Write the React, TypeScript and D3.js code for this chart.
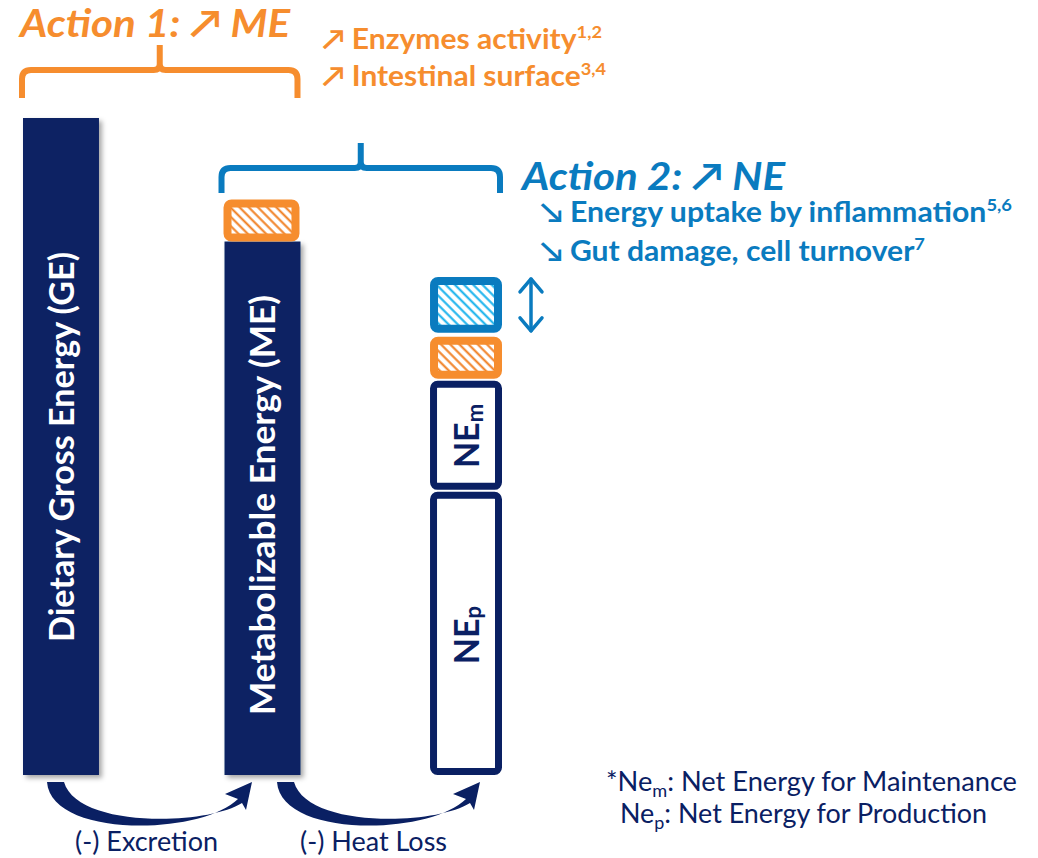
import React from "react";
import * as d3 from "d3";

const categories = ["GE", "ME", "NE"];
// stacks: [key, from, to] in % of dietary gross energy
const geStack: [string, number, number][] = [["GE", 0, 100]];
const meStack: [string, number, number][] = [["ME", 0, 81.2], ["gainME", 81.2, 87.6]];
const neStack: [string, number, number][] = [
  ["NEp", 0, 43.1],
  ["NEm", 43.4, 60.0],
  ["gainME", 60.3, 66.7],
  ["gainNE", 67.3, 75.8],
];
const barLabels = ["Dietary Gross Energy (GE)", "Metabolizable Energy (ME)"];
const action1 = { title: "Action 1: \u2197 ME", items: [["\u2197 Enzymes activity", "1,2"], ["\u2197 Intestinal surface", "3,4"]] };
const action2 = { title: "Action 2: \u2197 NE", items: [["\u2198 Energy uptake by inflammation", "5,6"], ["\u2198 Gut damage, cell turnover", "7"]] };
const lossLabels = ["(-) Excretion", "(-) Heat Loss"];

const NAVY = "#0a2063";
const ORANGE = "#f68d2e";
const HATCH_O = "#f07d1e";
const BLUE = "#0a7bbf";
const LIGHTBLUE = "#12b0ec";
const FONT = "Lato, 'Open Sans', sans-serif";

export default function App() {
  const W = 1038, H = 858;
  const y = d3.scaleLinear().domain([0, 100]).range([775, 118]);
  const x = d3.scaleBand<string>().domain(categories).range([23, 502]).paddingInner(0.623);
  const bw = x.bandwidth();
  const xGE = x("GE")!, xME = x("ME")!, xNE = x("NE")!;

  const box = (x0: number, w: number, from: number, to: number, stroke: string, fill: string, sw: number, key: string) => (
    <rect key={key} x={x0 + sw / 2} y={y(to) + sw / 2} width={w - sw} height={y(from) - y(to) - sw}
      rx={4} fill={fill} stroke={stroke} strokeWidth={sw} />
  );

  const brace = (x0: number, x1: number, yTop: number, yMid: number, yEnd: number, color: string) => {
    const cx = (x0 + x1) / 2;
    const r = 9;
    return (
      <path d={`M${x0},${yEnd} L${x0},${yMid + r} Q${x0},${yMid} ${x0 + r},${yMid} L${cx - 6},${yMid} Q${cx},${yMid} ${cx},${yMid - 6} L${cx},${yTop}
        M${cx},${yMid - 6} Q${cx},${yMid} ${cx + 6},${yMid} L${x1 - r},${yMid} Q${x1},${yMid} ${x1},${yMid + r} L${x1},${yEnd}`}
        fill="none" stroke={color} strokeWidth={6} strokeLinejoin="round" />
    );
  };

  const curvedArrow = (sx: number, tx: number, key: string) => {
    const y0 = 782, yb = 830;
    const d = `M${sx},${y0} C${sx + 4},${yb + 8} ${tx - 50},${yb + 6} ${tx - 12},${y0 + 17}
      L${tx - 25},${y0 + 12} L${tx + 2},${y0} L${tx - 4},${y0 + 28} L${tx - 8},${y0 + 21}
      C${tx - 45},${yb - 4} ${sx + 30},${yb - 2} ${sx + 17},${y0} Z`;
    return <path key={key} d={d} fill={NAVY} />;
  };

  const neCx = xNE + 2 + bw / 2;
  const supText = (t: string, s: string, i: number, x0: number, y0: number, color: string, len: number) => (
    <text key={i} x={x0} y={y0} fill={color} fontWeight="bold" fontSize={28} textLength={len} lengthAdjust="spacingAndGlyphs">
      {t}<tspan fontSize={17} dy={-11}>{s}</tspan>
    </text>
  );

  return (
    <svg width={W} height={H} style={{ position: "absolute", left: 0, top: 0, background: "#fff" }} fontFamily={FONT}>
      <defs>
        <pattern id="hatchO" patternUnits="userSpaceOnUse" width="6.5" height="6.5" patternTransform="rotate(-45)">
          <rect width="6.5" height="6.5" fill="#fff" />
          <rect x="2.3" y="0" width="2" height="6.5" fill={HATCH_O} />
        </pattern>
        <pattern id="hatchB" patternUnits="userSpaceOnUse" width="6.5" height="6.5" patternTransform="rotate(-45)">
          <rect width="6.5" height="6.5" fill="#fff" />
          <rect x="2.3" y="0" width="2" height="6.5" fill={LIGHTBLUE} />
        </pattern>
        <filter id="shadow" x="-20%" y="-5%" width="150%" height="115%">
          <feDropShadow dx="3" dy="3" stdDeviation="2.5" floodColor="#000" floodOpacity="0.35" />
        </filter>
      </defs>

      {/* GE bar */}
      {geStack.map(([k, f, t]) => (
        <rect key={k} x={xGE} y={y(t)} width={bw} height={y(f) - y(t)} fill={NAVY} filter="url(#shadow)" />
      ))}
      {/* ME bar */}
      {meStack.map(([k, f, t]) =>
        k === "ME" ? (
          <rect key={k} x={xME} y={y(t)} width={bw} height={y(f) - y(t)} fill={NAVY} filter="url(#shadow)" />
        ) : (
          box(xME - 1, bw, f, t, ORANGE, "url(#hatchO)", 8, k)
        )
      )}
      {/* NE stack */}
      {neStack.map(([k, f, t]) => {
        if (k === "gainME") return box(xNE + 4, bw - 4, f, t, ORANGE, "url(#hatchO)", 8, k);
        if (k === "gainNE") return box(xNE + 4, bw - 4, f, t, BLUE, "url(#hatchB)", 8, k);
        return box(xNE + 4, bw - 4, f, t, NAVY, "#fff", 7, k);
      })}

      {/* vertical labels */}
      <text transform={`translate(${xGE + bw / 2},${447}) rotate(-90)`} textAnchor="middle" dominantBaseline="central"
        fill="#fff" fontWeight="bold" fontSize={34} textLength={390} lengthAdjust="spacingAndGlyphs">{barLabels[0]}</text>
      <text transform={`translate(${xME + bw / 2 - 1},${505}) rotate(-90)`} textAnchor="middle" dominantBaseline="central"
        fill="#fff" fontWeight="bold" fontSize={34} textLength={420} lengthAdjust="spacingAndGlyphs">{barLabels[1]}</text>
      <text transform={`translate(${neCx - 1},${436}) rotate(-90)`} textAnchor="middle" dominantBaseline="central"
        fill={NAVY} fontWeight="bold" fontSize={34}>NE<tspan fontSize={22} dy={9}>m</tspan></text>
      <text transform={`translate(${neCx - 1},${635}) rotate(-90)`} textAnchor="middle" dominantBaseline="central"
        fill={NAVY} fontWeight="bold" fontSize={34}>NE<tspan fontSize={22} dy={7}>p</tspan></text>

      {/* double arrow */}
      <g stroke={BLUE} strokeWidth={3.5} fill="none" strokeLinecap="round" strokeLinejoin="round">
        <line x1={531} y1={y(75.8) + 2} x2={531} y2={y(67.3) - 2} />
        <polyline points={`520,${y(75.8) + 15} 531,${y(75.8) + 2} 542,${y(75.8) + 15}`} />
        <polyline points={`520,${y(67.3) - 15} 531,${y(67.3) - 2} 542,${y(67.3) - 15}`} />
      </g>

      {/* braces */}
      {brace(xGE - 1, xME + bw - 3, 45, 70, 98, ORANGE)}
      {brace(xME - 3, xNE + bw - 2, 143, 168, 193, BLUE)}

      {/* Action 1 */}
      <text x={20} y={37} fill={ORANGE} fontWeight="bold" fontStyle="italic" fontSize={39} textLength={270} lengthAdjust="spacingAndGlyphs">{action1.title}</text>
      {action1.items.map(([t, s], i) => supText(t, s, i, 322, 49 + i * 37, ORANGE, i === 0 ? 280 : 284))}
      {/* Action 2 */}
      <text x={522} y={190} fill={BLUE} fontWeight="bold" fontStyle="italic" fontSize={39} textLength={263} lengthAdjust="spacingAndGlyphs">{action2.title}</text>
      {action2.items.map(([t, s], i) => supText(t, s, i, 540, 222 + i * 39, BLUE, i === 0 ? 472 : 385))}

      {/* curved arrows */}
      {curvedArrow(47, 250, "a1")}
      {curvedArrow(277, 478, "a2")}
      <text x={75} y={851} fill={NAVY} fontSize={26} textLength={143} lengthAdjust="spacingAndGlyphs">{lossLabels[0]}</text>
      <text x={300} y={851} fill={NAVY} fontSize={26} textLength={147} lengthAdjust="spacingAndGlyphs">{lossLabels[1]}</text>

      {/* footnote */}
      <text x={606} y={791} fill={NAVY} fontSize={27} textLength={411} lengthAdjust="spacingAndGlyphs">*Ne<tspan fontSize={18} dy={6}>m</tspan><tspan dy={-6}>: Net Energy for Maintenance</tspan></text>
      <text x={620} y={823} fill={NAVY} fontSize={27} textLength={367} lengthAdjust="spacingAndGlyphs">Ne<tspan fontSize={18} dy={6}>p</tspan><tspan dy={-6}>: Net Energy for Production</tspan></text>
    </svg>
  );
}
